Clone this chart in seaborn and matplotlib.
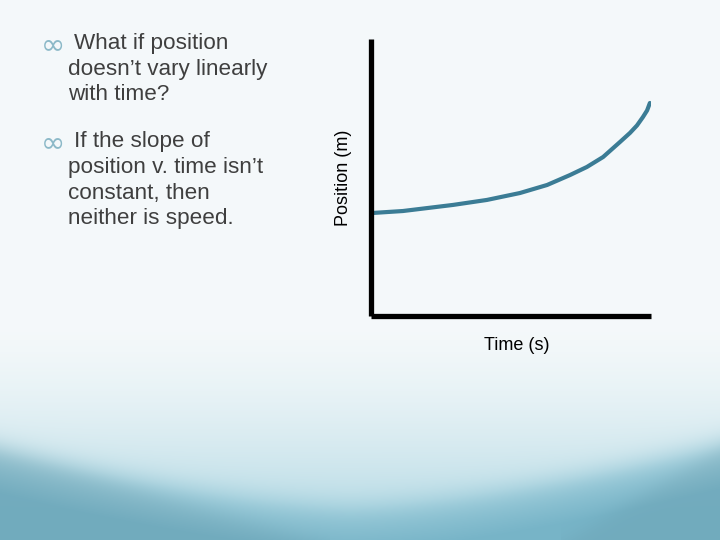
import numpy as np
import pandas as pd
import matplotlib
matplotlib.use("Agg")
import matplotlib.pyplot as plt
import seaborn as sns

# ---- data ----
time_s = [0.07, 1.14, 2.93, 4.14, 5.32, 6.29, 7.11, 7.71, 8.29, 8.89, 9.25, 9.50, 9.71, 9.86, 9.96]
position_m = [3.72, 3.79, 4.01, 4.19, 4.44, 4.73, 5.09, 5.38, 5.74, 6.28, 6.61, 6.88, 7.18, 7.42, 7.69]

bullet1 = ["What if position", "doesn\u2019t vary linearly", "with time?"]
bullet2 = ["If the slope of", "position v. time isn\u2019t", "constant, then", "neither is speed."]

xlabel = "Time (s)"
ylabel = "Position (m)"

sns.set_theme(style="white")
plt.rcParams['font.family'] = ['Liberation Sans', 'DejaVu Sans']

W, H = 720, 540
fig = plt.figure(figsize=(7.2, 5.4), dpi=100)

# ---- slide background (decorative gradient) ----
bg = fig.add_axes([0, 0, 1, 1], zorder=-10)
yy, xx = np.mgrid[0:H, 0:W].astype(float)
top = np.array([0.960, 0.976, 0.982])
low = np.array([0.72, 0.86, 0.90])
t0 = np.clip((yy - 320) / 200.0, 0, 1) ** 1.5
img = top * (1 - t0[..., None]) + low * t0[..., None]

def sig(z):
    return 1.0 / (1.0 + np.exp(-z))

u = np.abs((xx - 350) / 370.0)
c1 = 505 - 62 * u ** 1.5
d1 = sig((yy - c1) / 7.0)
dist = np.clip((yy - c1) / 45.0, 0, 1)
bandA = np.array([0.58, 0.78, 0.84])
bandB = np.array([0.44, 0.69, 0.77])
band = bandA * (1 - dist[..., None]) + bandB * dist[..., None]
img = img * (1 - 0.9 * d1[..., None]) + band * (0.9 * d1[..., None])

# faint secondary sheen curves
c2 = 447 + 0.30 * xx
d2 = sig((yy - c2) / 6.0) * (xx < 330)
img = img * (1 - 0.05 * d2[..., None])
c3 = 520 - 0.6 * (xx - 600)
d3 = sig((yy - c3) / 6.0) * (xx > 560)
img = img * (1 - 0.05 * d3[..., None])

bg.imshow(np.clip(img, 0, 1), aspect='auto', extent=[0, W, H, 0], interpolation='bilinear')
bg.axis('off')

# ---- chart ----
ax = fig.add_axes([371 / W, 1 - 316 / H, 280 / W, 277 / H])
ax.patch.set_alpha(0)
df = pd.DataFrame({"t": time_s, "p": position_m})
sns.lineplot(data=df, x="t", y="p", ax=ax, color="#3B7C95", linewidth=3.0,
             sort=False, estimator=None)
ax.set_xlim(0, 10)
ax.set_ylim(0, 10)
ax.set_xticks([])
ax.set_yticks([])
for s in ["top", "right"]:
    ax.spines[s].set_visible(False)
for s in ["left", "bottom"]:
    ax.spines[s].set_color("black")
    ax.spines[s].set_linewidth(3.8)
    ax.spines[s].set_capstyle("butt")
ax.set_xlabel(xlabel, fontsize=13, color="black")
ax.set_ylabel(ylabel, fontsize=13, color="black", labelpad=14)
ax.xaxis.set_label_coords((517 - 371) / 280, (316 - 337) / 277)

# ---- slide text ----
def px(x, y):
    return x / W, 1 - y / H

tc = "#3F3F3F"
bc = "#8CB9C8"
fs = 16.2
for yb, lines in [(44, bullet1), (142, bullet2)]:
    fig.text(*px(41, yb + 1), "\u221e", fontsize=21, color=bc, va="center", ha="left",
             family=['DejaVu Sans'])
    for i, line in enumerate(lines):
        x = 74 if i == 0 else 68
        fig.text(*px(x, yb + 25.5 * i), line, fontsize=fs, color=tc, va="center", ha="left")

fig.savefig("out.png", dpi=100)
